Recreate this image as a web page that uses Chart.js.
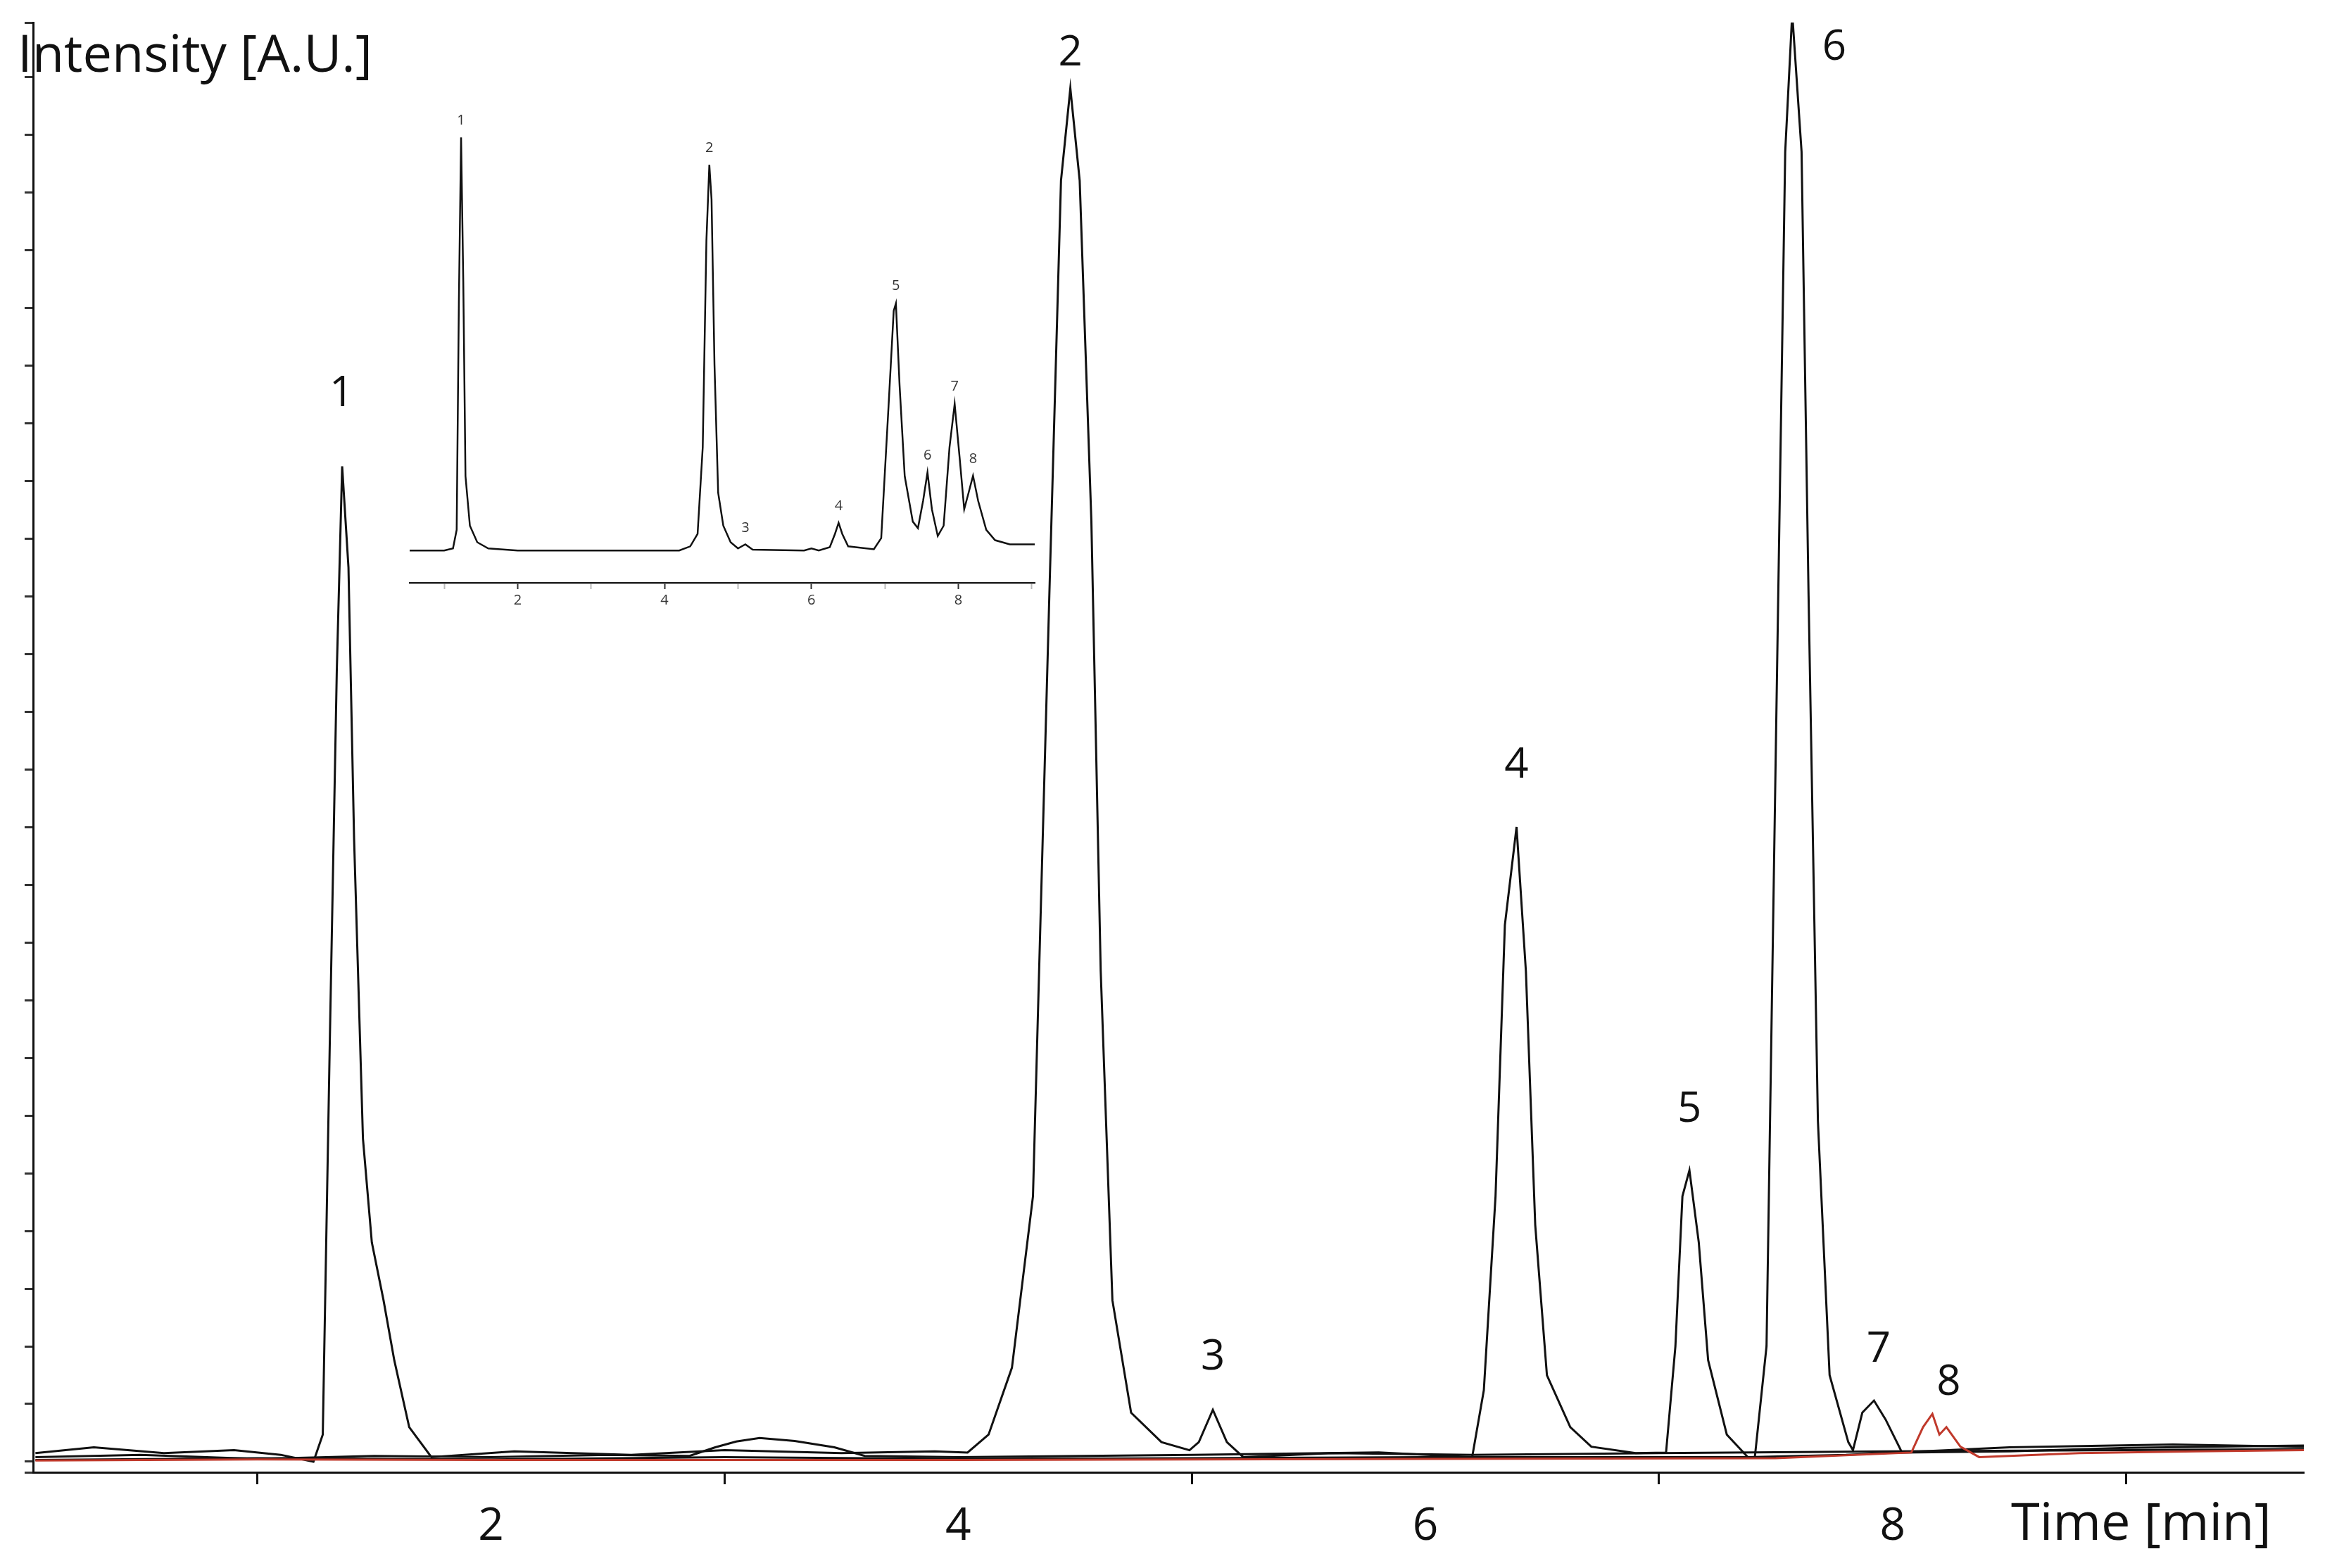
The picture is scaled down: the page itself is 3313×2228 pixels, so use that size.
<!DOCTYPE html>
<html>
<head>
<meta charset="utf-8">
<script src="https://cdn.jsdelivr.net/npm/chart.js@4.4.1/dist/chart.umd.min.js"></script>
<style>
  body { margin: 0; background: #fff; }
  #wrap { position: relative; width: 3313px; height: 2228px; }
  #main { position: absolute; left: 0; top: 0; }
  #inset { position: absolute; left: 540px; top: 140px; }
</style>
</head>
<body>
<div id="wrap">
  <canvas id="main" width="3313" height="2228"></canvas>
  <canvas id="inset" width="960" height="760"></canvas>
</div>
<script>
// Main chromatograms: time [min] and intensity (arbitrary units)
const traceA_t = [0.05, 0.3, 0.6, 0.9, 1.1, 1.24, 1.28, 1.31, 1.34, 1.363, 1.39, 1.414, 1.452, 1.49, 1.54, 1.586, 1.65, 1.745, 2.1, 2.6, 3.0, 3.5, 3.9, 4.04, 4.13, 4.23, 4.32, 4.39, 4.44, 4.48, 4.52, 4.57, 4.61, 4.66, 4.74, 4.87, 4.99, 5.03, 5.09, 5.15, 5.22, 5.6, 6.2, 7.0, 8.0, 9.0, 9.76];
const traceA_y = [1.5, 2.5, 1.5, 2, 1.2, 0, 4.7, 72.5, 137, 172.5, 155, 108, 56, 38, 28, 17.6, 6, 0.8, 1.8, 1.2, 2, 1.5, 1.8, 1.6, 4.7, 16.3, 46, 150, 222, 238, 222, 163, 85, 28, 8.5, 3.4, 2, 3.4, 9, 3.4, 0.8, 1.5, 1.2, 1.5, 1.8, 2, 2.2];

const traceB_t = [0.05, 0.5, 1.0, 1.5, 2.0, 2.5, 2.85, 2.96, 3.05, 3.15, 3.3, 3.47, 3.6, 4.0, 5.0, 5.8, 6.2, 6.25, 6.3, 6.34, 6.39, 6.43, 6.47, 6.52, 6.62, 6.71, 6.9, 7.03, 7.07, 7.1, 7.13, 7.17, 7.21, 7.29, 7.38, 7.8, 8.5, 9.2, 9.76];
const traceB_y = [0.8, 1.2, 0.5, 1.0, 0.8, 1.2, 1, 2.5, 3.5, 4.1, 3.6, 2.5, 1, 0.8, 1.2, 1.6, 0.8, 12.4, 46, 93, 110, 85, 41, 15, 6, 2.6, 1.5, 1.6, 20, 46, 50.5, 38, 17.6, 4.7, 0.8, 1.2, 2.5, 3.0, 2.6];

const traceC_t = [0.05, 1.0, 2.0, 3.0, 4.0, 5.0, 6.0, 7.0, 7.41, 7.46, 7.5, 7.54, 7.57, 7.61, 7.64, 7.68, 7.73, 7.81, 7.83, 7.87, 7.92, 7.97, 8.04, 8.5, 9.0, 9.76];
const traceC_y = [0.3, 0.6, 0.4, 0.8, 0.5, 0.6, 0.8, 0.8, 0.8, 20, 124, 227, 251, 227, 150, 59, 15, 3.4, 2, 8.5, 10.6, 7.3, 1.6, 1.8, 2.4, 2.8];

const traceRed_t = [0.05, 1.0, 2.0, 4.0, 6.0, 7.5, 8.08, 8.13, 8.17, 8.2, 8.23, 8.29, 8.37, 8.8, 9.3, 9.76];
const traceRed_y = [0.2, 0.4, 0.3, 0.3, 0.5, 0.6, 1.6, 6, 8.3, 4.7, 6, 2.6, 0.8, 1.5, 1.8, 2.0];

// Peak numbers (main chart)
const peakNames = ['1', '2', '3', '4', '5', '6', '7', '8'];
const peakLabel_t = [1.36, 4.48, 5.09, 6.39, 7.13, 7.75, 7.94, 8.24];
const peakLabel_y = [185, 244, 18.1, 120.6, 61, 245, 19.4, 13.7];

// Inset chromatogram
const inset_t = [0.53, 1.0, 1.12, 1.17, 1.2, 1.23, 1.26, 1.29, 1.35, 1.45, 1.6, 2.0, 4.2, 4.35, 4.45, 4.52, 4.57, 4.61, 4.64, 4.68, 4.73, 4.8, 4.9, 5.0, 5.1, 5.2, 5.9, 6.0, 6.1, 6.25, 6.32, 6.37, 6.42, 6.5, 6.85, 6.95, 7.05, 7.12, 7.15, 7.2, 7.27, 7.38, 7.45, 7.52, 7.58, 7.64, 7.72, 7.8, 7.88, 7.95, 8.02, 8.08, 8.14, 8.2, 8.27, 8.38, 8.5, 8.7, 9.1];
const inset_y = [0, 0, 0.5, 5, 60, 100, 65, 18, 6, 2, 0.5, 0, 0, 1, 4, 25, 75, 93.4, 85, 45, 14, 6, 2, 0.5, 1.5, 0.2, 0, 0.5, 0, 0.8, 4, 6.7, 4, 1, 0.3, 3, 35, 58, 59.8, 40, 18, 7, 5.4, 12, 18.9, 10, 3.5, 6, 25, 35.5, 22, 10, 14, 18.1, 12, 5, 2.5, 1.5, 1.5];
const insetLabel_t = [1.23, 4.61, 5.1, 6.37, 7.15, 7.58, 7.95, 8.2];
const insetLabel_y = [104, 97.5, 5.5, 10.8, 64, 23, 39.6, 22.2];

const FONT = '"Open Sans", "DejaVu Sans", sans-serif';

const toPoints = (ts, ys) => ts.map((t, i) => ({ x: t, y: ys[i] }));

const lineSet = (ts, ys, color, width) => ({
    data: toPoints(ts, ys),
    borderColor: color,
    borderWidth: width,
    pointRadius: 0,
    tension: 0,
    fill: false
});

// Rysowanie numerów pików i tytułów osi
const labelsPlugin = (names, ts, ys, size, color) => ({
    id: 'peakLabels',
    afterDatasetsDraw(chart, args, opts) {
        const { ctx, scales } = chart;
        ctx.save();
        ctx.fillStyle = color;
        ctx.font = `${size}px ${FONT}`;
        ctx.textAlign = 'center';
        ctx.textBaseline = 'middle';
        names.forEach((n, i) => {
            ctx.fillText(n, scales.x.getPixelForValue(ts[i]), scales.y.getPixelForValue(ys[i]));
        });
        if (opts.titles) {
            ctx.font = `74px ${FONT}`;
            ctx.fillStyle = '#111';
            ctx.textAlign = 'left';
            ctx.fillText('Intensity [A.U.]', 25, 81);
            ctx.fillText('Time [min]', 2857, 2167);
        }
        ctx.restore();
    }
});

const mainPlugin = labelsPlugin(peakNames, peakLabel_t, peakLabel_y, 60, '#111');
mainPlugin.defaults = { titles: true };

new Chart(document.getElementById('main'), {
    type: 'line',
    data: {
        datasets: [
            lineSet(traceRed_t, traceRed_y, '#c0392b', 3),
            lineSet(traceB_t, traceB_y, '#111', 3),
            lineSet(traceC_t, traceC_y, '#111', 3),
            lineSet(traceA_t, traceA_y, '#111', 3)
        ]
    },
    options: {
        responsive: false,
        animation: false,
        devicePixelRatio: 1,
        layout: { padding: { top: 32, right: 40 } },
        plugins: { legend: { display: false }, tooltip: { enabled: false } },
        scales: {
            x: {
                type: 'linear',
                min: 0.04,
                max: 9.76,
                afterFit: (s) => { s.height = 136; },
                afterBuildTicks: (s) => { s.ticks = [1, 2, 3, 4, 5, 6, 7, 8, 9].map(v => ({ value: v })); },
                border: { color: '#111', width: 3 },
                grid: {
                    drawOnChartArea: false,
                    tickLength: 17,
                    tickWidth: 3,
                    tickColor: (c) => (c.tick && c.tick.value % 2 === 1) ? '#111' : 'rgba(0,0,0,0)'
                },
                ticks: {
                    autoSkip: false,
                    maxRotation: 0,
                    padding: 22,
                    color: '#111',
                    font: { family: FONT, size: 64 },
                    callback: (v) => v % 2 === 0 ? String(v) : ''
                }
            },
            y: {
                min: -1.83,
                max: 249.4,
                afterFit: (s) => { s.width = 47; },
                border: { color: '#111', width: 3 },
                grid: { drawOnChartArea: false, tickLength: 12, tickWidth: 3, tickColor: '#333' },
                ticks: { stepSize: 10, display: true, color: 'rgba(0,0,0,0)', font: { size: 1 }, padding: 0 }
            }
        }
    },
    plugins: [mainPlugin]
});

new Chart(document.getElementById('inset'), {
    type: 'line',
    data: { datasets: [lineSet(inset_t, inset_y, '#111', 2.5)] },
    options: {
        responsive: false,
        animation: false,
        devicePixelRatio: 1,
        layout: { padding: { top: 30, left: 42, right: 30 } },
        plugins: { legend: { display: false }, tooltip: { enabled: false } },
        scales: {
            x: {
                type: 'linear',
                min: 0.53,
                max: 9.04,
                afterFit: (s) => { s.height = 72; },
                afterBuildTicks: (s) => { s.ticks = [1, 2, 3, 4, 5, 6, 7, 8, 9].map(v => ({ value: v })); },
                border: { color: '#222', width: 2.5 },
                grid: {
                    drawOnChartArea: false,
                    tickLength: 9,
                    tickWidth: 2,
                    tickColor: (c) => (c.tick && c.tick.value % 2 === 1) ? '#bbb' : '#333'
                },
                ticks: {
                    autoSkip: false,
                    maxRotation: 0,
                    padding: 4,
                    color: '#333',
                    font: { family: FONT, size: 20 },
                    callback: (v) => v % 2 === 0 ? String(v) : ''
                }
            },
            y: { display: false, min: -7.8, max: 104.3 }
        }
    },
    plugins: [labelsPlugin(peakNames, insetLabel_t, insetLabel_y, 20, '#333')]
});
</script>
</body>
</html>
